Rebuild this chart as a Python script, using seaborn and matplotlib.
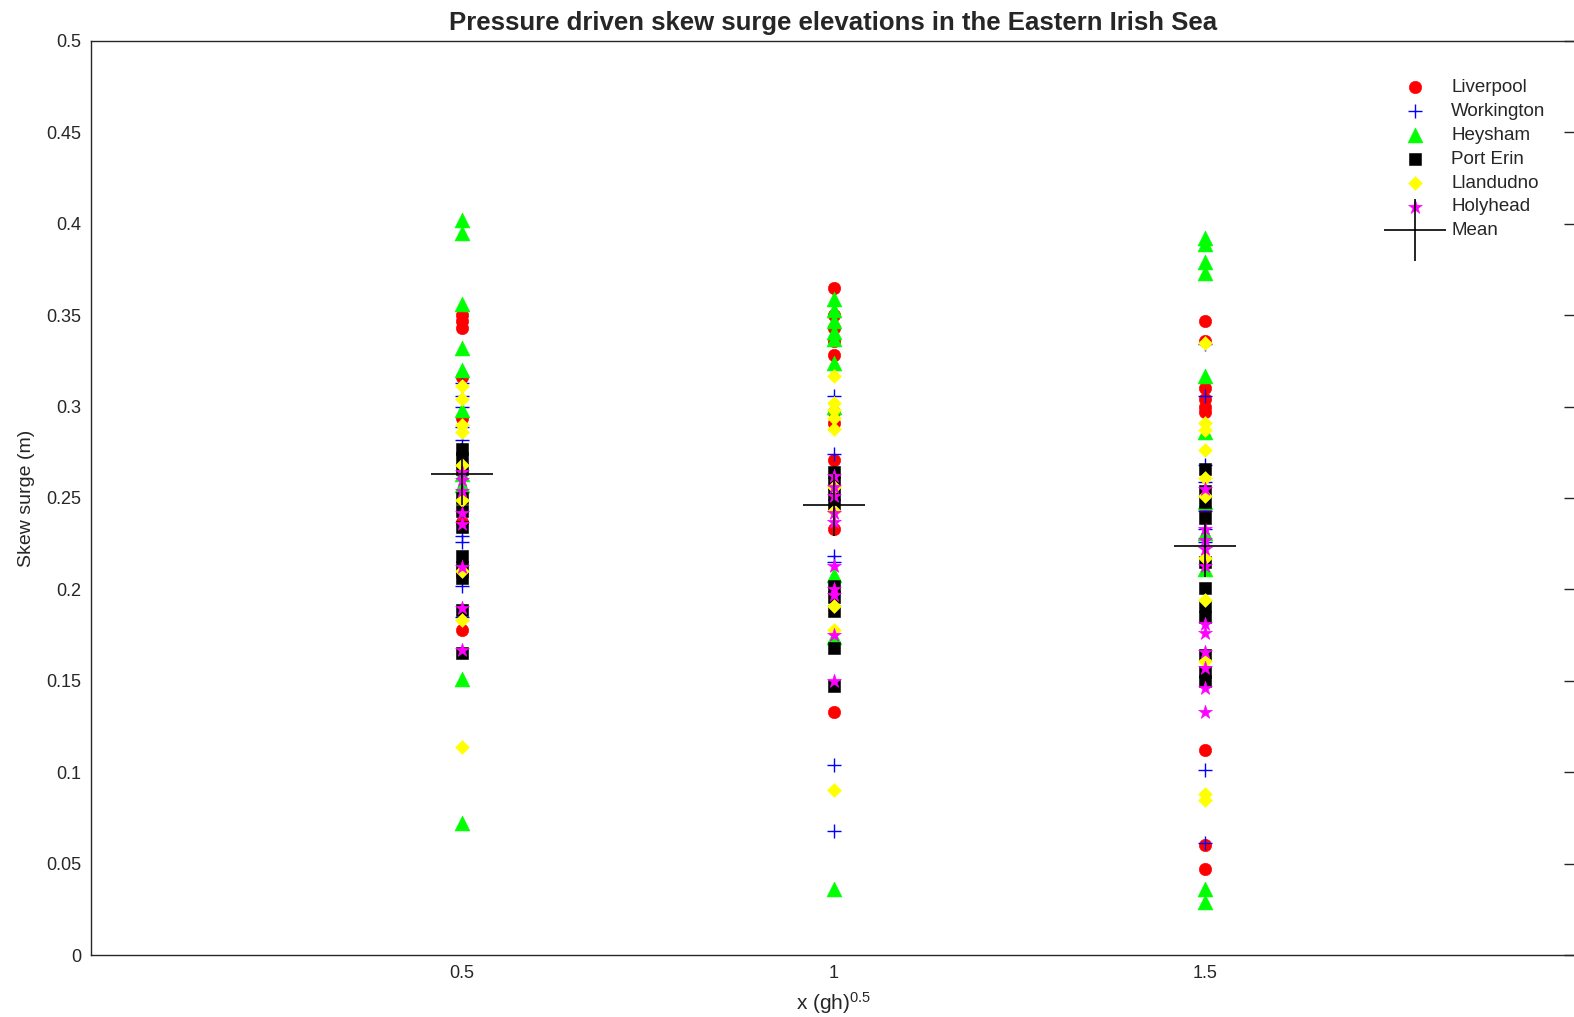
import numpy as np
import pandas as pd
import matplotlib
matplotlib.use("Agg")
import matplotlib.pyplot as plt
import seaborn as sns
from matplotlib.ticker import FixedLocator, FuncFormatter

# ---------------- data ----------------
stations = ["Liverpool", "Workington", "Heysham", "Port Erin", "Llandudno", "Holyhead"]
x_positions = [0.5, 1.0, 1.5]

liverpool = {
    0.5: [0.350, 0.347, 0.343, 0.316, 0.294, 0.237, 0.208, 0.178],
    1.0: [0.365, 0.350, 0.343, 0.336, 0.328, 0.297, 0.291, 0.271, 0.233, 0.133],
    1.5: [0.347, 0.336, 0.310, 0.304, 0.300, 0.297, 0.244, 0.112, 0.060, 0.047],
}
workington = {
    0.5: [0.313, 0.306, 0.300, 0.289, 0.282, 0.229, 0.226, 0.202, 0.185],
    1.0: [0.306, 0.274, 0.218, 0.215, 0.104, 0.068],
    1.5: [0.334, 0.306, 0.268, 0.259, 0.243, 0.233, 0.226, 0.101, 0.061],
}
heysham = {
    0.5: [0.402, 0.395, 0.356, 0.332, 0.320, 0.298, 0.263, 0.257, 0.151, 0.072],
    1.0: [0.359, 0.353, 0.347, 0.341, 0.337, 0.324, 0.300, 0.208, 0.174, 0.036],
    1.5: [0.392, 0.389, 0.379, 0.373, 0.317, 0.286, 0.248, 0.231, 0.211, 0.036, 0.029],
}
port_erin = {
    0.5: [0.277, 0.272, 0.266, 0.250, 0.243, 0.234, 0.218, 0.212, 0.206, 0.189, 0.165],
    1.0: [0.264, 0.258, 0.252, 0.246, 0.202, 0.196, 0.188, 0.168, 0.147],
    1.5: [0.266, 0.254, 0.248, 0.239, 0.215, 0.201, 0.191, 0.185, 0.164, 0.155, 0.150],
}
llandudno = {
    0.5: [0.311, 0.304, 0.290, 0.286, 0.268, 0.249, 0.210, 0.183, 0.114],
    1.0: [0.317, 0.302, 0.298, 0.294, 0.288, 0.256, 0.243, 0.191, 0.178, 0.090],
    1.5: [0.335, 0.291, 0.287, 0.276, 0.261, 0.251, 0.217, 0.194, 0.161, 0.088, 0.085],
}
holyhead = {
    0.5: [0.264, 0.260, 0.254, 0.242, 0.236, 0.212, 0.190, 0.167],
    1.0: [0.262, 0.256, 0.251, 0.242, 0.237, 0.213, 0.200, 0.197, 0.175, 0.150],
    1.5: [0.255, 0.233, 0.227, 0.222, 0.213, 0.181, 0.176, 0.166, 0.157, 0.146, 0.133],
}
mean_values = [0.263, 0.246, 0.224]

y_ticks = [0, 0.05, 0.1, 0.15, 0.2, 0.25, 0.3, 0.35, 0.4, 0.45, 0.5]
x_ticks = [0.5, 1.0, 1.5]

title = "Pressure driven skew surge elevations in the Eastern Irish Sea"
xlabel = r"x (gh)$^{0.5}$"
ylabel = "Skew surge (m)"

# ---------------- build long-form table ----------------
series = [liverpool, workington, heysham, port_erin, llandudno, holyhead]
rows = []
for name, d in zip(stations, series):
    for xv in x_positions:
        for yv in d[xv]:
            rows.append({"station": name, "x": xv, "y": yv})
df = pd.DataFrame(rows)
df_mean = pd.DataFrame({"x": x_positions, "y": mean_values})

# ---------------- style ----------------
sns.set_theme(style="white")
plt.rcParams["font.family"] = ["Liberation Sans", "DejaVu Sans"]
plt.rcParams["mathtext.fontset"] = "custom"
plt.rcParams["mathtext.rm"] = "Liberation Sans"
plt.rcParams["mathtext.it"] = "Liberation Sans"
plt.rcParams["mathtext.default"] = "regular"

text_color = "#262626"

styles = {
    "Liverpool":  dict(marker="o", color="#ff0000", s=80,  lw=0.4),
    "Workington": dict(marker="+", color="#0000ff", s=90,  lw=1.0),
    "Heysham":    dict(marker="^", color="#00ff00", s=115, lw=0.4),
    "Port Erin":  dict(marker="s", color="#000000", s=85,  lw=0.4),
    "Llandudno":  dict(marker="D", color="#ffff00", s=50,  lw=0.4),
    "Holyhead":   dict(marker="*", color="#ff00ff", s=110, lw=0.4),
}

fig = plt.figure(figsize=(15.74, 10.17), dpi=100)
ax = fig.add_axes([91 / 1574, 62 / 1017, (1576 - 91) / 1574, (955 - 41) / 1017])

for name in stations:
    st = styles[name]
    sub = df[df["station"] == name]
    kw = dict(data=sub, x="x", y="y", marker=st["marker"], color=st["color"],
              s=st["s"], label=name, ax=ax, legend=False)
    if st["marker"] == "+":
        sns.scatterplot(linewidth=st["lw"], **kw)
    else:
        sns.scatterplot(edgecolor=st["color"], linewidth=st["lw"], **kw)

sns.scatterplot(data=df_mean, x="x", y="y", marker="+", color="black", s=1990,
                linewidth=1.2, label="Mean", ax=ax, legend=False, zorder=5)

ax.set_xlim(0, 2)
ax.set_ylim(0, 0.5)
ax.xaxis.set_major_locator(FixedLocator(x_ticks))
ax.yaxis.set_major_locator(FixedLocator(y_ticks))
ax.xaxis.set_major_formatter(FuncFormatter(lambda v, p: f"{v:g}"))
ax.yaxis.set_major_formatter(FuncFormatter(lambda v, p: f"{v:g}"))
ax.tick_params(axis="both", which="major", direction="in", length=9, width=1.0,
               colors=text_color, labelsize=13, top=False, right=True, pad=7)
for sp in ax.spines.values():
    sp.set_color(text_color)
    sp.set_linewidth(1.0)

ax.set_xlabel(xlabel, fontsize=15, color=text_color, labelpad=6)
ax.set_ylabel(ylabel, fontsize=14, color=text_color, labelpad=8)
ax.set_title(title, fontsize=18.5, fontweight="bold", color=text_color, pad=8)

handles, labels = ax.get_legend_handles_labels()
leg = ax.legend(handles, labels, loc="upper left", frameon=False,
                bbox_to_anchor=((1396 - 91) / 1485, (955 - 79) / 914),
                fontsize=13.5, handlelength=2.0, handletextpad=0.95,
                labelspacing=0.36, borderaxespad=0, borderpad=0)
for t in leg.get_texts():
    t.set_color(text_color)

fig.savefig("out.png", dpi=100)
